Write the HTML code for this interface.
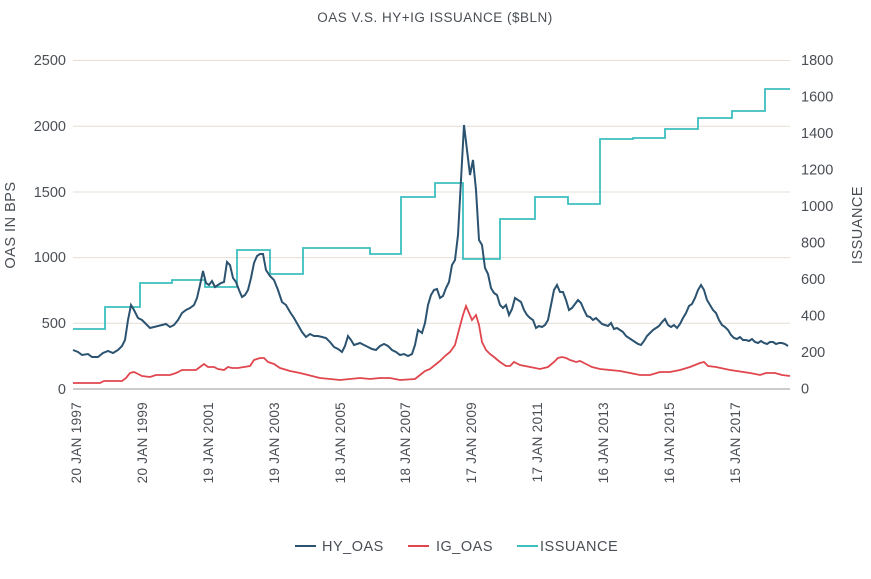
<!DOCTYPE html>
<html><head><meta charset="utf-8"><style>
body{margin:0;background:#fff;}
svg text{font-family:"Liberation Sans",sans-serif;fill:#4a4f55;}
</style></head><body>
<svg width="871" height="574" xmlns="http://www.w3.org/2000/svg">
<text x="435" y="22" text-anchor="middle" font-size="13.5" letter-spacing="0.5">OAS V.S. HY+IG ISSUANCE ($BLN)</text>
<g stroke="#e6ddd6" stroke-width="1">
<line x1="73" y1="60.5" x2="790" y2="60.5"/>
<line x1="73" y1="126.2" x2="790" y2="126.2"/>
<line x1="73" y1="192" x2="790" y2="192"/>
<line x1="73" y1="257.6" x2="790" y2="257.6"/>
<line x1="73" y1="323.3" x2="790" y2="323.3"/>
</g>
<line x1="73" y1="389" x2="790" y2="389" stroke="#999" stroke-width="1"/>
<g font-size="14.5" text-anchor="end">
<text x="66" y="65">2500</text><text x="66" y="131">2000</text><text x="66" y="197">1500</text>
<text x="66" y="262">1000</text><text x="66" y="328">500</text><text x="66" y="394">0</text>
</g>
<g font-size="14.5">
<text x="801" y="65">1800</text><text x="801" y="101.5">1600</text><text x="801" y="138">1400</text>
<text x="801" y="174.5">1200</text><text x="801" y="211">1000</text><text x="801" y="247.5">800</text>
<text x="801" y="284">600</text><text x="801" y="320.5">400</text><text x="801" y="357">200</text>
<text x="801" y="393.5">0</text>
</g>
<text transform="translate(15,225) rotate(-90)" text-anchor="middle" font-size="14.5" letter-spacing="0.5">OAS IN BPS</text>
<text transform="translate(862,225) rotate(-90)" text-anchor="middle" font-size="14.5" letter-spacing="0.5">ISSUANCE</text>
<g font-size="13.5" text-anchor="end" letter-spacing="0.3">
<text transform="translate(81,402) rotate(-90)">20 JAN 1997</text>
<text transform="translate(147,402) rotate(-90)">20 JAN 1999</text>
<text transform="translate(213,402) rotate(-90)">19 JAN 2001</text>
<text transform="translate(279,402) rotate(-90)">19 JAN 2003</text>
<text transform="translate(345,402) rotate(-90)">18 JAN 2005</text>
<text transform="translate(410,402) rotate(-90)">18 JAN 2007</text>
<text transform="translate(476,402) rotate(-90)">17 JAN 2009</text>
<text transform="translate(542,402) rotate(-90)">17 JAN 2011</text>
<text transform="translate(608,402) rotate(-90)">16 JAN 2013</text>
<text transform="translate(674,402) rotate(-90)">16 JAN 2015</text>
<text transform="translate(740,402) rotate(-90)">15 JAN 2017</text>
</g>
<polyline fill="none" stroke="#3dbfbf" stroke-width="1.8" points="73,329 105,329 105,307 140,307 140,283 172,283 172,280 205,280 205,287 237,287 237,250 270,250 270,274 303,274 303,248 370,248 370,254 401,254 401,197 435,197 435,183 463,183 463,259 500,259 500,219 535,219 535,197 568,197 568,204 600,204 600,139 633,139 633,138 665,138 665,129 698,129 698,118 732,118 732,111 765,111 765,89 790,89"/>
<polyline fill="none" stroke="#e0464e" stroke-width="1.8" points="73,383 100,383 104,381 122,381 126,378 130,373 134,372 138,374 142,376 150,377 156,375 170,375 176,373 182,370 196,370 200,367 204,364 208,367 214,367 218,369 224,370 228,367 232,368 238,368 244,367 250,366 254,360 260,358 264,358 268,362 274,364 280,368 290,371 300,373 320,378 340,380 350,379 360,378 370,379 380,378 390,378 400,380 415,379 420,375 425,371 430,369 435,365 440,361 445,356 450,352 455,345 460,326 463,315 466,306 469,313 472,320 476,315 479,325 482,342 486,350 490,354 494,357 500,362 506,366 510,366 514,362 520,365 530,367 540,369 548,367 554,362 558,358 562,357 566,358 570,360 576,362 580,361 586,364 592,367 600,369 610,370 620,371 630,373 640,375 650,375 660,372 670,372 680,370 690,367 700,363 704,362 708,366 716,367 730,370 750,373 760,375 766,373 775,373 782,375 790,376"/>
<polyline fill="none" stroke="#2b5370" stroke-width="2" points="73,350 78,352 82,355 88,354 92,357 98,357 103,353 108,351 113,353 118,350 122,346 125,340 128,320 131,305 134,310 138,318 142,320 146,324 150,328 154,327 158,326 162,325 166,324 170,327 174,325 178,320 182,313 186,310 190,308 194,305 197,298 200,285 203,271 206,283 209,285 212,281 215,287 218,285 221,283 224,282 227,262 230,265 233,278 236,282 239,290 242,297 245,295 248,290 251,278 254,263 257,256 260,254 263,254 266,270 270,276 274,280 278,290 282,302 286,305 290,312 294,318 298,325 302,332 306,337 310,334 314,336 318,336 322,337 326,338 330,342 334,347 338,349 342,352 345,346 348,336 351,340 354,345 357,344 360,343 364,345 368,347 372,349 376,350 380,346 384,344 388,346 392,350 396,352 400,355 404,354 408,356 412,354 415,345 418,330 422,333 425,323 428,305 431,295 434,290 437,289 440,298 443,296 446,288 449,282 452,265 455,260 458,235 461,180 464,125 467,150 470,175 473,160 476,190 479,240 482,245 485,268 488,274 491,288 494,293 497,295 500,305 503,308 506,305 509,315 512,309 515,298 518,300 521,302 524,310 527,315 530,318 533,320 536,328 539,326 542,327 545,325 548,320 551,305 554,290 557,285 560,292 563,292 566,300 569,310 572,308 575,304 578,300 581,303 584,310 587,316 590,317 593,320 596,318 599,321 602,324 605,325 608,326 611,323 614,329 617,328 620,330 623,332 626,336 629,338 632,340 635,342 638,344 641,345 644,341 647,336 650,333 653,330 656,328 659,326 662,322 665,319 668,325 671,327 674,325 677,328 680,324 683,318 686,313 689,306 692,304 695,298 698,290 701,285 704,290 707,300 710,305 713,310 716,313 719,320 722,325 725,327 728,330 731,335 734,338 737,339 740,337 743,340 746,340 749,341 752,339 755,342 758,343 761,341 764,343 767,344 770,342 773,342 776,344 779,343 782,343 785,344 788,346"/>
<g font-size="14.5" letter-spacing="0.5">
<line x1="295" y1="546" x2="316" y2="546" stroke="#2b5370" stroke-width="2"/>
<text x="322" y="551">HY_OAS</text>
<line x1="408" y1="546" x2="429" y2="546" stroke="#e0464e" stroke-width="2"/>
<text x="436" y="551">IG_OAS</text>
<line x1="517" y1="546" x2="538" y2="546" stroke="#3dbfbf" stroke-width="2"/>
<text x="540" y="551">ISSUANCE</text>
</g>
</svg>
</body></html>
